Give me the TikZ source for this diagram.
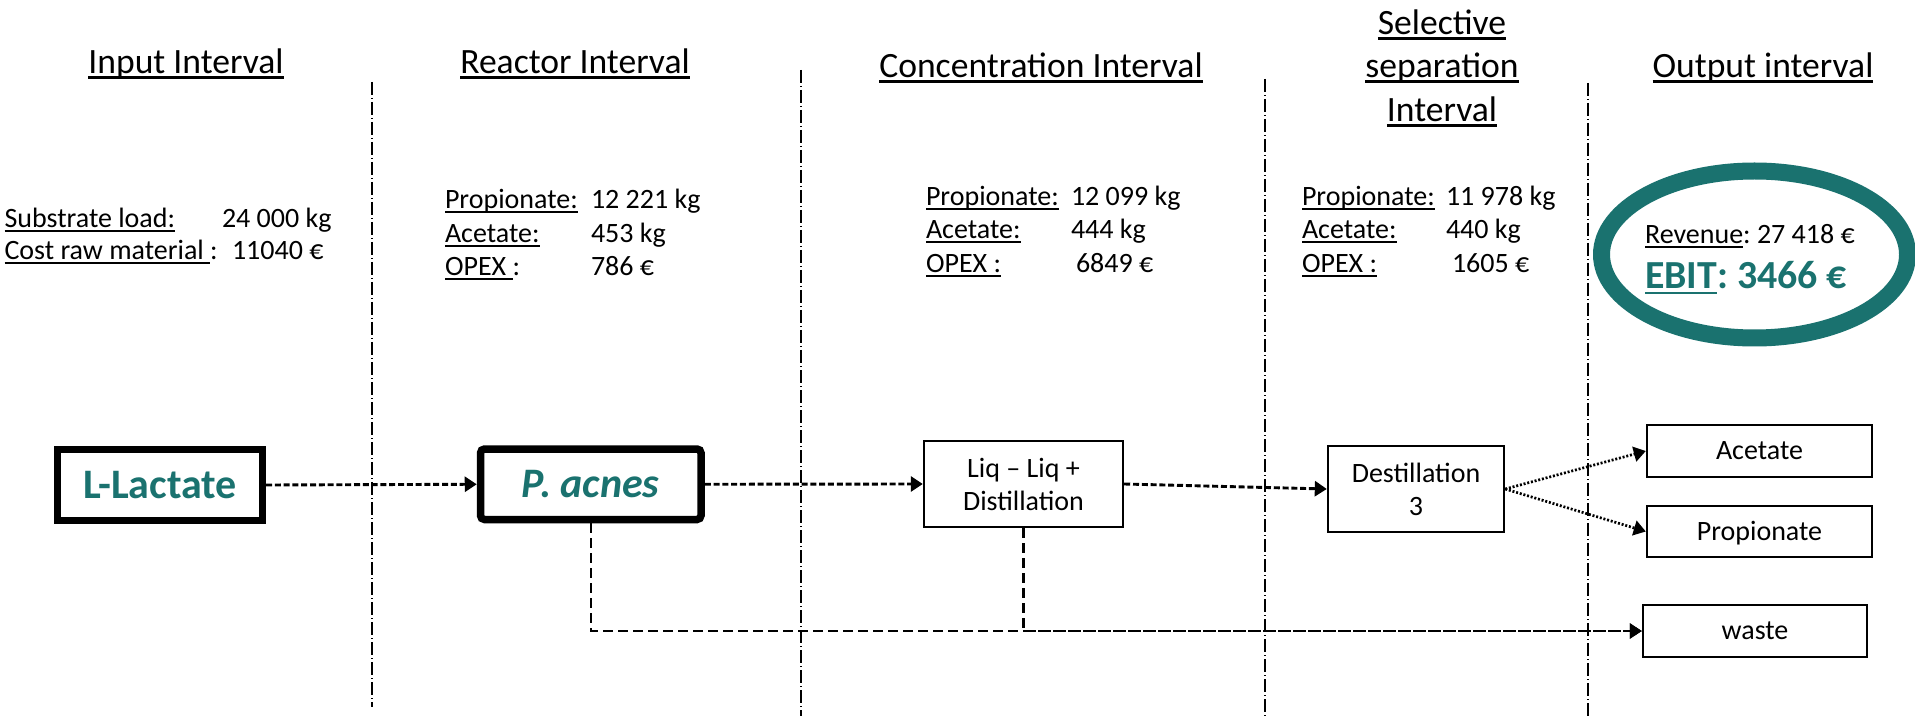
\documentclass[tikz,border=0pt]{standalone}
\usepackage{fontspec}
\setmainfont{Carlito}
\usetikzlibrary{arrows.meta,shapes.geometric}
\definecolor{tealmark}{RGB}{26,114,111}
% underline a piece of text with a rule just below the baseline
\newcommand\ulin[1]{\setbox0=\hbox{#1}\rlap{\rule[-0.13em]{\wd0}{0.06em}}\box0}

\begin{document}
\frenchspacing
\begin{tikzpicture}[x=0.5pt,y=-0.5pt,
  every node/.style={inner sep=0pt, outer sep=0pt},
  head/.style={anchor=base, font=\fontsize{17.8}{22}\selectfont},
  lab/.style={anchor=base west, font=\fontsize{14}{17}\selectfont},
  interval/.style={line width=0.7pt, dash pattern=on 6.5pt off 1.5pt on 0.5pt off 1.5pt},
  feedbox/.style={draw, outer sep=auto, line width=3.5pt, text=tealmark,
    font=\fontsize{21}{25}\selectfont\bfseries},
  procbox/.style={draw, outer sep=auto, line width=1.2pt, align=center,
    font=\fontsize{14}{16.5}\selectfont},
  outbox/.style={draw, outer sep=auto, line width=1.2pt, text height=8.85pt, text depth=0pt,
    font=\fontsize{14}{17}\selectfont},
  tip/.style={-{Triangle[length=6pt,width=7.5pt]}},
  flow/.style={tip, line width=1.45pt, dash pattern=on 3pt off 1.4pt},
  split/.style={tip, line width=1.35pt, dash pattern=on 1pt off 0.9pt},
  wasteline/.style={tip, line width=1.1pt, dash pattern=on 5pt off 2.5pt},
]
\useasboundingbox (0,0) rectangle (1915,716);

% interval separators
\draw[interval] (372,82) -- (372,707);
\draw[interval] (801,70) -- (801,716);
\draw[interval] (1265,79) -- (1265,716);
\draw[interval] (1588,83) -- (1588,716);

% interval headings
\node[head] (hin) at (186,74) {\ulin{Input Interval}};
\node[head] (hre) at (575,74) {\ulin{Reactor Interval}};
\node[head] (hco) at (1041,78) {\ulin{Concentration Interval}};
\node[head] (hsa) at (1442,35) {\ulin{Selective}};
\node[head] (hsb) at (1442,78) {\ulin{separation}};
\node[head] (hsc) at (1442,122) {\ulin{Interval}};
\node[head] (hou) at (1763,78) {\ulin{Output interval}};

% input figures
\node[lab] (inA) at (4.5,228) {\ulin{Substrate load:}};
\node[lab] (inAv) at (222,228) {24 000 kg};
\node[lab] (inB) at (4.5,260) {\ulin{Cost raw material }:};
\node[lab] (inBv) at (232,260) {11040 €};

% reactor figures
\node[lab] (reA) at (445,209) {\ulin{Propionate:}};
\node[lab] (reAv) at (591,209) {12 221 kg};
\node[lab] (reB) at (445,243) {\ulin{Acetate:}};
\node[lab] (reBv) at (591,243) {453 kg};
\node[lab] (reC) at (445,276) {\ulin{OPEX }:};
\node[lab] (reCv) at (591,276) {786 €};

% concentration figures
\node[lab] (coA) at (926,206) {\ulin{Propionate:}};
\node[lab] (coAv) at (1071,206) {12 099 kg};
\node[lab] (coB) at (926,239) {\ulin{Acetate:}};
\node[lab] (coBv) at (1071,239) {444 kg};
\node[lab] (coC) at (926,273) {\ulin{OPEX :}};
\node[lab] (coCv) at (1076,273) {6849 €};

% selective separation figures
\node[lab] (seA) at (1302,206) {\ulin{Propionate:}};
\node[lab] (seAv) at (1446,206) {11 978 kg};
\node[lab] (seB) at (1302,239) {\ulin{Acetate:}};
\node[lab] (seBv) at (1446,239) {440 kg};
\node[lab] (seC) at (1302,273) {\ulin{OPEX :}};
\node[lab] (seCv) at (1452,273) {1605 €};

% output result
\node[draw=tealmark, ellipse, line width=8.5pt, minimum width=153pt, minimum height=83.5pt] (ring) at (1754.5,254.5) {};
\node[lab] (rev) at (1645,244) {\ulin{Revenue}: 27 418 €};
\node[lab, text=tealmark, font=\fontsize{19.9}{24}\selectfont\bfseries] (ebit) at (1645,289) {\ulin{EBIT}: 3466 €};

% process chain
\node[feedbox, minimum width=102.5pt, minimum height=35.5pt] (lact) at (160,485) {L-Lactate};
\node[feedbox, line width=3.75pt, rounded corners=2pt, minimum width=110.25pt, minimum height=35.25pt,
  font=\fontsize{21}{25}\selectfont\bfseries\itshape] (pac) at (590.75,484.25) {P. acnes};
\node[procbox, minimum width=99.5pt, minimum height=43pt] (liq) at (1023.5,484) {Liq – Liq +\\Distillation};
\node[procbox, minimum width=88pt, minimum height=43pt] (dest) at (1416,489) {Destillation\\3};
\node[outbox, minimum width=112.5pt, minimum height=26pt] (acet) at (1759.5,451) {Acetate};
\node[outbox, minimum width=112.5pt, minimum height=25.5pt] (prop) at (1759.5,531.5) {Propionate};
\node[outbox, minimum width=112pt, minimum height=26pt] (waste) at (1755,631) {waste};

% connectors
\draw[flow] (lact.east) -- (pac.west);
\draw[flow] (pac.east) -- (liq.west);
\draw[flow] (liq.east) -- (dest.west);
\draw[split] (dest.east) -- (acet.west);
\draw[split] (dest.east) -- (prop.west);
\draw[wasteline] (pac.south) |- (waste.west);
\draw[wasteline] (liq.south) |- (waste.west);
\end{tikzpicture}
\end{document}
